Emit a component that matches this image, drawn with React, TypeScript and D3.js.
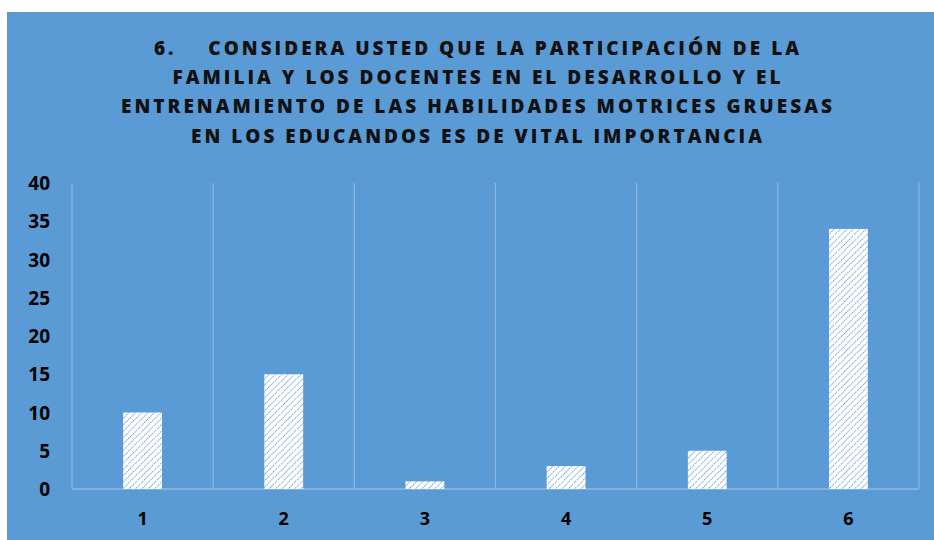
import React from "react";
import * as d3 from "d3";

const categories = ["1", "2", "3", "4", "5", "6"];
const values = [10, 15, 1, 3, 5, 34];
const yTicks = [0, 5, 10, 15, 20, 25, 30, 35, 40];
const titleLines = [
  "6.    CONSIDERA USTED QUE LA PARTICIPACIÓN DE LA",
  "FAMILIA Y LOS DOCENTES EN EL DESARROLLO Y EL",
  "ENTRENAMIENTO DE LAS HABILIDADES MOTRICES GRUESAS",
  "EN LOS EDUCANDOS ES DE VITAL IMPORTANCIA",
];

export default function App() {
  const W = 934, H = 540;
  const left = 72, right = 919, top = 183, bottom = 489;
  const x = d3.scaleBand().domain(categories).range([left, right]).paddingInner(0).paddingOuter(0);
  const y = d3.scaleLinear().domain([0, 40]).range([bottom, top]);
  const bw = x.bandwidth() * 0.275;
  const bg = "#5B9BD5";
  const grid = "#8DB8E2";
  const font = "'Open Sans', sans-serif";
  const boundaries = categories.map((c) => x(c) as number).concat([right]);
  return (
    <svg width={W} height={H} style={{ position: "absolute", left: 0, top: 0 }}>
      <defs>
        <pattern id="hatch" patternUnits="userSpaceOnUse" width="4.5" height="4.5" patternTransform="rotate(45)">
          <rect width="4.5" height="4.5" fill="#ffffff" />
          <line x1="0" y1="0" x2="0" y2="4.5" stroke="#4F92D0" strokeWidth="1.7" strokeDasharray="1.4 0.8" />
        </pattern>
      </defs>
      <rect x={0} y={0} width={W} height={H} fill="#ffffff" />
      <rect x={7} y={12} width={W - 7} height={H - 12} fill={bg} />
      {titleLines.map((t, i) => (
        <text key={i} x={478} y={55 + i * 29.2} textAnchor="middle" fontFamily={font} fontWeight={800}
          fontSize={19} letterSpacing={3} fill="#111" style={{ whiteSpace: "pre" }}>{t}</text>
      ))}
      {boundaries.map((b, i) => (
        <line key={i} x1={b} x2={b} y1={top} y2={bottom} stroke={grid} strokeWidth={1.2} />
      ))}
      <line x1={left} x2={right} y1={bottom} y2={bottom} stroke={grid} strokeWidth={1.5} />
      {values.map((v, i) => {
        const cx = (x(categories[i]) as number) + x.bandwidth() / 2;
        return (
          <rect key={i} x={cx - bw / 2} y={y(v)} width={bw} height={bottom - y(v)} fill="url(#hatch)" />
        );
      })}
      {yTicks.map((t) => (
        <text key={t} x={50} y={y(t) + 7} textAnchor="end" fontFamily={font} fontWeight={700}
          fontSize={19} fill="#000">{t}</text>
      ))}
      {categories.map((c) => (
        <text key={c} x={(x(c) as number) + x.bandwidth() / 2} y={525} textAnchor="middle" fontFamily={font}
          fontWeight={700} fontSize={18} fill="#000">{c}</text>
      ))}
    </svg>
  );
}
